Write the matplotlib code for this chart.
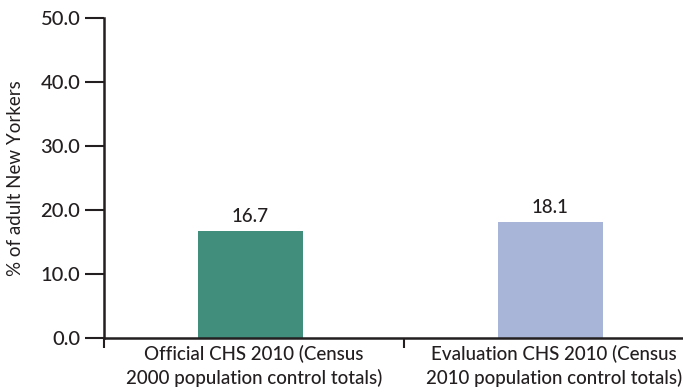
import matplotlib.pyplot as plt
from matplotlib.ticker import FixedLocator

# survey estimates, % of adult New Yorkers
categories = ['Official CHS 2010 (Census\n2000 population control totals)',
              'Evaluation CHS 2010 (Census\n2010 population control totals)']
values = [16.7, 18.1]
colors = ['#428e7d', '#a8b4d8']
yticks = [0, 10, 20, 30, 40, 50]

plt.rcParams['font.family'] = ['Lato', 'DejaVu Sans']
plt.rcParams['font.weight'] = 'medium'
ink = '#231f20'

fig = plt.figure(figsize=(6.83, 3.92), dpi=100)
ax = fig.add_axes([0.1523, 0.1378, 0.8477, 0.8163])

x = [0, 1]
bar_x = [xi - 0.013 for xi in x]
ax.bar(bar_x, values, width=0.35, color=colors)
for xi, v in zip(bar_x, values):
    ax.text(xi, v + 1.0, f'{v:.1f}', ha='center', va='bottom', fontsize=13.5, color=ink)

ax.set_xlim(-0.5, 1.43)
ax.set_ylim(0, 50)
ax.set_yticks(yticks)
ax.set_yticklabels([f'{t:.1f}' for t in yticks], fontsize=14.5, color=ink)
ax.set_ylabel('% of adult New Yorkers', fontsize=13.5, color=ink, labelpad=12)

ax.set_xticks(x)
ax.set_xticklabels(categories, fontsize=13.5, color=ink, linespacing=1.4)
ax.xaxis.set_minor_locator(FixedLocator([-0.5, 0.5]))
ax.tick_params(axis='x', which='major', length=0, pad=5)
ax.tick_params(axis='x', which='minor', length=7, width=1.5, color=ink, direction='out')
ax.tick_params(axis='y', length=14, width=1.5, color=ink, pad=3)

for side in ['top', 'right']:
    ax.spines[side].set_visible(False)
for side in ['left', 'bottom']:
    ax.spines[side].set_linewidth(1.8)
    ax.spines[side].set_color(ink)

fig.savefig('out.png', dpi=100)
